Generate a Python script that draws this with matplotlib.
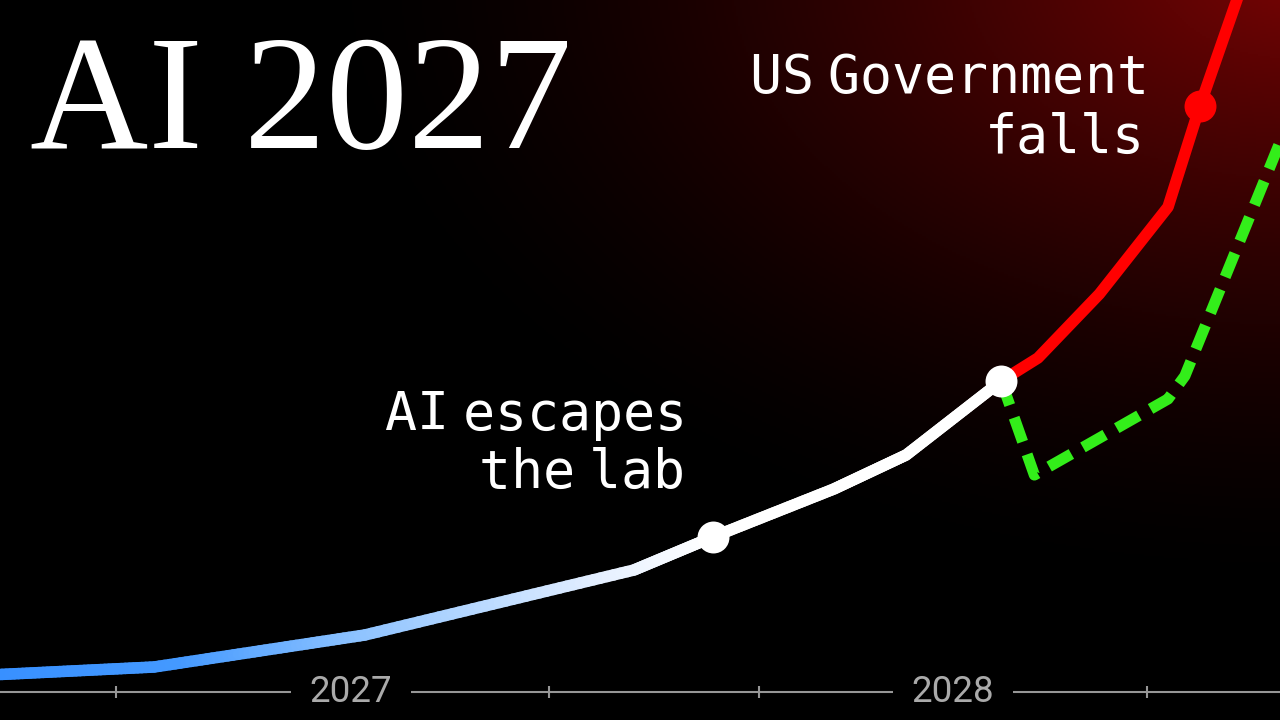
import numpy as np
import matplotlib
matplotlib.use('Agg')
import matplotlib.pyplot as plt
from matplotlib.collections import LineCollection
from matplotlib.colors import LinearSegmentedColormap

# Zeitachse in Jahren, y = Fähigkeitsindex (willkürliche Einheit)
main_x = [2026.40, 2026.673, 2027.023, 2027.470, 2027.601, 2027.802, 2027.922, 2028.080]
main_y = [0.17, 0.25, 0.57, 1.22, 1.55, 2.03, 2.37, 3.11]

race_x = [2028.080, 2028.141, 2028.243, 2028.357, 2028.410, 2028.480]
race_y = [3.11, 3.34, 3.98, 4.85, 5.86, 7.07]

slow_x = [2028.080, 2028.135, 2028.357, 2028.385, 2028.560]
slow_y = [3.11, 2.17, 2.93, 3.16, 5.75]

event_x = [2027.601, 2028.080]
event_y = [1.55, 3.11]
fall_x = [2028.410]
fall_y = [5.86]

tick_x = [2026.610, 2027.329, 2027.678, 2028.322]
year_x = [2027.0, 2028.0]
year_labels = ['2027', '2028']

xmin, xmax = 2026.417, 2028.543
ymin, ymax = -0.28, 6.92

fig = plt.figure(figsize=(12.8, 7.2), dpi=100, facecolor='black')
ax = fig.add_axes([0, 0, 1, 1])
ax.set_facecolor('black')
ax.set_xlim(xmin, xmax)
ax.set_ylim(ymin, ymax)
ax.axis('off')

# roter Schein oben rechts
gx, gy = np.meshgrid(np.linspace(0, 1280, 640), np.linspace(0, 720, 360))
d = np.sqrt((gx - 1300) ** 2 + ((gy + 30) * 1.6) ** 2)
glow = np.clip(1 - d / 1000, 0, 1) ** 1.6
bg = np.zeros((360, 640, 3))
bg[..., 0] = glow * 0.47
bg[..., 1] = glow * 0.015
bg[..., 2] = glow * 0.015
ax.imshow(bg, extent=(xmin, xmax, ymin, ymax), origin='upper', aspect='auto', zorder=0)

# Zeitachse
ax.axhline(0, color='#969696', lw=1.5, zorder=1)
ax.vlines(tick_x, -0.06, 0.06, color='#969696', lw=1.5, zorder=1)
for x, lab in zip(year_x, year_labels):
    ax.text(x, 0, lab, ha='center', va='center', fontsize=26.5, family='Roboto',
            color='#aaaaaa', zorder=2,
            bbox=dict(boxstyle='square,pad=0.5', fc='black', ec='none'))

# Hauptlinie mit Farbverlauf (blau -> weiß)
seg_x, seg_y = [], []
for i in range(len(main_x) - 1):
    seg_x.extend(np.linspace(main_x[i], main_x[i + 1], 40, endpoint=False))
    seg_y.extend(np.linspace(main_y[i], main_y[i + 1], 40, endpoint=False))
seg_x.append(main_x[-1])
seg_y.append(main_y[-1])
pts = np.column_stack([seg_x, seg_y]).reshape(-1, 1, 2)
segs = np.concatenate([pts[:-1], pts[1:]], axis=1)
cmap = LinearSegmentedColormap.from_list(
    'ai', [(0.0, '#3890ff'), (0.25, '#4499ff'), (0.5, '#8cc2ff'), (0.85, '#e6f0ff'), (1.0, '#ffffff')])
lc = LineCollection(segs, cmap=cmap, linewidths=8.3, capstyle='round', joinstyle='round', zorder=4)
lc.set_array(np.array(seg_x[:-1]))
lc.set_clim(xmin, 2027.601)
ax.add_collection(lc)

# Szenarien
ax.plot(race_x, race_y, color='#ff0000', lw=8.3, solid_joinstyle='round', zorder=3)
slow, = ax.plot(slow_x, slow_y, color='#33ee1a', lw=8, zorder=3)
slow.set_dashes((2.3, 1.2))

ax.plot(event_x, event_y, 'o', color='white', ms=23, mew=0, zorder=5)
ax.plot(fall_x, fall_y, 'o', color='#ff0000', ms=23, mew=0, zorder=5)

# Beschriftungen (schmale Wortabstände wie im Original)
mono = ['DejaVu Sans Mono', 'DejaVu Sans']
ax.text(2027.552, 2.04, 'AI$\\;$escapes\nthe$\\;$lab', ha='right', va='baseline',
        multialignment='right', linespacing=1.1, fontsize=38.3, family=mono,
        color='white', zorder=6)
ax.text(2028.318, 5.39, 'US$\\;$Government\nfalls', ha='right', va='baseline',
        multialignment='right', linespacing=1.2, fontsize=38.3, family=mono,
        color='white', zorder=6)

fig.text(30 / 1280, 1 - 148 / 720, 'AI 2027', ha='left', va='baseline',
         fontsize=118, family='Liberation Serif', color='white')

fig.savefig('out.png', dpi=100, facecolor='black')
